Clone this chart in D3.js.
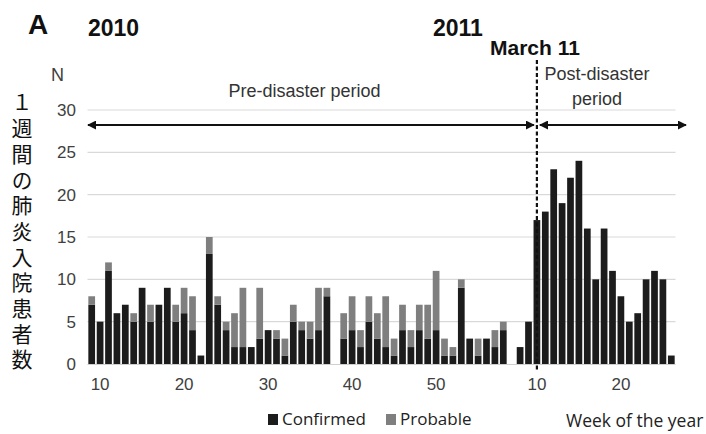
<!DOCTYPE html>
<html>
<head>
<meta charset="utf-8">
<script src="https://cdn.jsdelivr.net/npm/d3@7"></script>
<style>
  body { margin: 0; background: #fff; }
  svg { display: block; }
</style>
</head>
<body>
<div id="chart_a"></div>
<script>
const id_ref = "#chart_a"

// weeks shown on the x axis (2010 week 9 .. 2011 week 26)
const weeks2010 = [9, 10, 11, 12, 13, 14, 15, 16, 17, 18, 19, 20, 21, 22, 23, 24, 25, 26, 27, 28, 29, 30,
  31, 32, 33, 34, 35, 36, 37, 38, 39, 40, 41, 42, 43, 44, 45, 46, 47, 48, 49, 50, 51, 52]
const weeks2011 = [1, 2, 3, 4, 5, 6, 7, 8, 9, 10, 11, 12, 13, 14, 15, 16, 17, 18, 19, 20, 21, 22, 23, 24, 25, 26]

// weekly pneumonia admissions
const confirmed2010 = [7, 5, 11, 6, 7, 5, 9, 5, 7, 9, 5, 6, 4, 1, 13, 7, 4, 2, 2, 2, 3, 4,
  3, 1, 5, 4, 3, 4, 8, 0, 3, 4, 2, 5, 3, 2, 1, 4, 2, 4, 3, 4, 1, 1]
const probable2010 = [1, 0, 1, 0, 0, 1, 0, 2, 0, 0, 2, 3, 4, 0, 2, 1, 1, 4, 7, 0, 6, 0,
  1, 2, 2, 1, 2, 5, 1, 0, 3, 4, 2, 3, 3, 6, 2, 3, 2, 3, 4, 7, 2, 1]
const confirmed2011 = [9, 3, 1, 3, 2, 4, 0, 2, 5, 17, 18, 23, 19, 22, 24, 16, 10, 16, 11, 8, 5, 6, 10, 11, 10, 1]
const probable2011 = [1, 0, 2, 0, 2, 1, 0, 0, 0, 0, 0, 0, 0, 0, 0, 0, 0, 0, 0, 0, 0, 0, 0, 0, 0, 0]

const tickWeeks = [10, 20, 30, 40, 50]     // 2010
const tickWeeks2011 = [10, 20]             // 2011
const yTicks = [0, 5, 10, 15, 20, 25, 30]
const seriesNames = ["Confirmed", "Probable"]
const disasterWeek = "2011-10"

const width = 706, height = 434

// build rows
const data = []
weeks2010.forEach((w, i) => data.push({key: "2010-" + w, week: w, Confirmed: confirmed2010[i], Probable: probable2010[i]}))
weeks2011.forEach((w, i) => data.push({key: "2011-" + w, week: w, Confirmed: confirmed2011[i], Probable: probable2011[i]}))

const svg = d3.select(id_ref)
  .append("svg")
    .attr("width", width)
    .attr("height", height)

const x = d3.scaleBand()
    .domain(data.map(d => d.key))
    .range([87.5, 675.5])
    .paddingInner(0.2)
    .paddingOuter(0.1)

const y = d3.scaleLinear()
    .domain([0, 30])
    .range([364, 110])

const color = d3.scaleOrdinal()
    .domain(seriesNames)
    .range(["#1c1c1c", "#7f7f7f"])

const textFont = "'Liberation Sans Narrow', 'Liberation Sans', Arial, sans-serif"

// gridlines
svg.append("g")
  .selectAll("line")
  .data(yTicks.filter(t => t > 0))
  .join("line")
    .attr("x1", 87.5)
    .attr("x2", 675.5)
    .attr("y1", d => y(d))
    .attr("y2", d => y(d))
    .attr("stroke", "#d9d9d9")
    .attr("stroke-width", 1.2)

// y axis (labels only)
const yAxis = svg.append("g")
    .attr("transform", "translate(80,0)")
    .call(d3.axisLeft(y).tickValues(yTicks).tickSize(0).tickPadding(4))
yAxis.select(".domain").remove()
yAxis.selectAll("text")
    .style("font-family", textFont)
    .style("font-size", "17px")
    .attr("fill", "#404040")

// stacked bars
const stacked = d3.stack().keys(seriesNames)(data)
svg.append("g")
  .selectAll("g")
  .data(stacked)
  .join("g")
    .attr("fill", d => color(d.key))
  .selectAll("rect")
  .data(d => d)
  .join("rect")
    .attr("x", d => x(d.data.key))
    .attr("y", d => y(d[1]))
    .attr("width", x.bandwidth())
    .attr("height", d => y(d[0]) - y(d[1]))

// baseline
svg.append("line")
    .attr("x1", 87.5).attr("x2", 675.5)
    .attr("y1", y(0) + 0.5).attr("y2", y(0) + 0.5)
    .attr("stroke", "#d0d0d0")

// x axis tick labels
const tickKeys = tickWeeks.map(w => "2010-" + w).concat(tickWeeks2011.map(w => "2011-" + w))
const xAxis = svg.append("g")
    .attr("transform", `translate(0, ${y(0)})`)
    .call(d3.axisBottom(x).tickValues(tickKeys).tickFormat(k => k.split("-")[1]).tickSize(0).tickPadding(14))
xAxis.select(".domain").remove()
xAxis.selectAll("text")
    .style("font-family", textFont)
    .style("font-size", "17px")
    .attr("fill", "#404040")

// March 11 dashed line
const xd = x(disasterWeek) + x.bandwidth() / 2
svg.append("line")
    .attr("x1", xd).attr("x2", xd)
    .attr("y1", 60).attr("y2", 372)
    .attr("stroke", "#111")
    .attr("stroke-width", 2.2)
    .attr("stroke-dasharray", "4,2.5")

// arrows
const defs = svg.append("defs")
defs.append("marker")
    .attr("id", "arrow")
    .attr("viewBox", "0 0 10 10")
    .attr("refX", 9).attr("refY", 5)
    .attr("markerWidth", 9).attr("markerHeight", 9)
    .attr("markerUnits", "userSpaceOnUse")
    .attr("orient", "auto-start-reverse")
  .append("path")
    .attr("d", "M0,0 L10,5 L0,10 z")
    .attr("fill", "#111")

const arrowY = 125
svg.append("line")
    .attr("x1", 88).attr("x2", xd - 3)
    .attr("y1", arrowY).attr("y2", arrowY)
    .attr("stroke", "#111").attr("stroke-width", 2)
    .attr("marker-start", "url(#arrow)")
    .attr("marker-end", "url(#arrow)")
svg.append("line")
    .attr("x1", xd + 3).attr("x2", 686)
    .attr("y1", arrowY).attr("y2", arrowY)
    .attr("stroke", "#111").attr("stroke-width", 2)
    .attr("marker-start", "url(#arrow)")
    .attr("marker-end", "url(#arrow)")

// period labels
svg.append("text")
    .attr("x", (88 + xd) / 2 - 8)
    .attr("y", 97)
    .attr("text-anchor", "middle")
    .style("font-family", textFont)
    .style("font-size", "18px")
    .attr("fill", "#333")
    .text("Pre-disaster period")

const postLabel = svg.append("text")
    .attr("x", 597)
    .attr("y", 80)
    .attr("text-anchor", "middle")
    .style("font-family", textFont)
    .style("font-size", "18px")
    .attr("fill", "#333")
postLabel.append("tspan").attr("x", 597).text("Post-disaster")
postLabel.append("tspan").attr("x", 597).attr("dy", 25).text("period")

// headers
svg.append("text")
    .attr("x", 28).attr("y", 34)
    .style("font-family", "'Liberation Sans', Arial, sans-serif")
    .style("font-size", "28px")
    .style("font-weight", "bold")
    .attr("fill", "#111")
    .text("A")

svg.append("text")
    .attr("x", 88).attr("y", 36)
    .style("font-family", textFont)
    .style("font-size", "23px")
    .style("font-weight", "bold")
    .attr("fill", "#111")
    .text("2010")

svg.append("text")
    .attr("x", 433).attr("y", 36)
    .style("font-family", textFont)
    .style("font-size", "23px")
    .style("font-weight", "bold")
    .attr("fill", "#111")
    .text("2011")

svg.append("text")
    .attr("x", 490).attr("y", 55)
    .style("font-family", textFont)
    .style("font-size", "21px")
    .style("font-weight", "bold")
    .attr("fill", "#111")
    .text("March 11")

svg.append("text")
    .attr("x", 51).attr("y", 81)
    .style("font-family", textFont)
    .style("font-size", "18px")
    .attr("fill", "#404040")
    .text("N")

// Japanese y axis title
svg.append("text")
    .attr("x", 22).attr("y", 92)
    .style("writing-mode", "vertical-rl")
    .style("text-orientation", "upright")
    .style("font-family", "'Noto Sans CJK JP', sans-serif")
    .style("font-size", "21px")
    .style("letter-spacing", "4.7px")
    .attr("fill", "#111")
    .text("１週間の肺炎入院患者数")

// legend
const legendFont = "'Open Sans', 'Noto Sans', sans-serif"
const legend = svg.append("g")
  .selectAll("g")
  .data(seriesNames)
  .join("g")
    .attr("transform", (d, i) => `translate(${i === 0 ? 268 : 386}, 414)`)
legend.append("rect")
    .attr("width", 10).attr("height", 11)
    .attr("fill", d => color(d))
legend.append("text")
    .attr("x", 14).attr("y", 11)
    .style("font-family", legendFont)
    .style("font-size", "17px")
    .attr("fill", "#222")
    .text(d => d)

svg.append("text")
    .attr("x", 566).attr("y", 427)
    .style("font-family", legendFont)
    .style("font-size", "17.5px")
    .attr("fill", "#222")
    .text("Week of the year")
</script>
</body>
</html>
